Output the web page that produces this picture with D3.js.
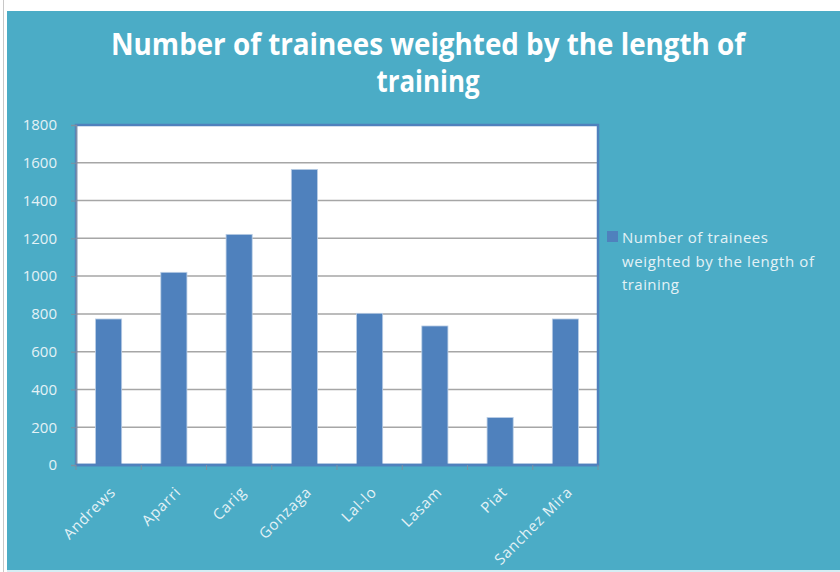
<!DOCTYPE html>
<html><head><meta charset="utf-8">
<script src="https://cdn.jsdelivr.net/npm/d3@7"></script>
<style>body{margin:0;background:#fff}svg{display:block}</style>
</head><body>
<script>
const categories = ["Andrews","Aparri","Carig","Gonzaga","Lal-lo","Lasam","Piat","Sanchez Mira"];
const values = [773, 1020, 1221, 1565, 803, 736, 251, 773];
const yTicks = [0,200,400,600,800,1000,1200,1400,1600,1800];
const titleLines = ["Number of trainees weighted by the length of","training"];
const legendLines = ["Number of trainees","weighted by the length of","training"];

const W=840,H=572;
const svg=d3.select("body").append("svg").attr("width",W).attr("height",H);
svg.append("rect").attr("x",0).attr("y",0).attr("width",W).attr("height",H).attr("fill","#fff");
svg.append("line").attr("x1",3.5).attr("x2",3.5).attr("y1",0).attr("y2",H).attr("stroke","#c8c8c8");
svg.append("rect").attr("x",7).attr("y",11).attr("width",W-7).attr("height",559).attr("fill","#4bacc6");
svg.append("rect").attr("x",7).attr("y",570).attr("width",W-7).attr("height",2).attr("fill","#d6eef4");

const font="'Open Sans', sans-serif";
const txt="#e4f2f6";

// title
const t=svg.append("text").attr("fill","#fff").attr("font-family",font).attr("font-weight","bold").attr("font-size",31).attr("text-anchor","middle");
titleLines.forEach((l,i)=>{
  const ts=t.append("tspan").attr("x",428).attr("y",i===0?55:92).text(l);
  ts.attr("textLength",i===0?634:103).attr("lengthAdjust","spacingAndGlyphs");
});

const m={l:76,r:598,t:125,b:465};
const x=d3.scaleBand().domain(categories).range([m.l,m.r]).paddingInner(0.6).paddingOuter(0.3);
const y=d3.scaleLinear().domain([0,1800]).range([m.b,m.t]);

svg.append("rect").attr("x",m.l).attr("y",m.t).attr("width",m.r-m.l).attr("height",m.b-m.t).attr("fill","#fff");

// grid
svg.append("g").selectAll("line").data(yTicks.filter(d=>d>0&&d<1800)).join("line")
  .attr("x1",m.l).attr("x2",m.r).attr("y1",d=>y(d)).attr("y2",d=>y(d))
  .attr("stroke","#a6a6a6").attr("stroke-width",1.5);

// bars
svg.append("g").selectAll("rect").data(values).join("rect")
  .attr("x",(d,i)=>x(categories[i])).attr("y",d=>y(d))
  .attr("width",x.bandwidth()).attr("height",d=>y(0)-y(d))
  .attr("fill","#4f81bd").attr("stroke","#b9cde5").attr("stroke-width",0.8);

// frame
svg.append("rect").attr("x",m.l).attr("y",m.t).attr("width",m.r-m.l).attr("height",m.b-m.t)
  .attr("fill","none").attr("stroke","#4f81bd").attr("stroke-width",2.5);

// y axis
const ya=svg.append("g").attr("transform",`translate(${m.l},0)`)
  .call(d3.axisLeft(y).tickValues(yTicks).tickSize(5).tickPadding(14).tickFormat(d3.format("d")));
ya.select(".domain").attr("stroke","#7f8fa6").attr("stroke-width",1.5);
ya.selectAll(".tick line").attr("stroke","#7f8f9f");
ya.selectAll("text").attr("fill",txt).attr("font-family",font).attr("font-size",15);

// x axis
const xa=svg.append("g").attr("transform",`translate(0,${m.b})`);
xa.append("line").attr("x1",m.l).attr("x2",m.r).attr("stroke","#4f81bd").attr("stroke-width",2.5);
xa.selectAll("line.tk").data(d3.range(categories.length+1)).join("line").attr("class","tk")
  .attr("x1",i=>m.l+i*(m.r-m.l)/categories.length).attr("x2",i=>m.l+i*(m.r-m.l)/categories.length)
  .attr("y1",0).attr("y2",5).attr("stroke","#7f8f9f");
xa.selectAll("text").data(categories).join("text")
  .attr("transform",d=>`translate(${x(d)+x.bandwidth()/2+8},28) rotate(-45)`)
  .attr("text-anchor","end").attr("letter-spacing",0.8)
  .attr("fill",txt).attr("font-family",font).attr("font-size",15).text(d=>d);

// legend
svg.append("rect").attr("x",607).attr("y",231).attr("width",11).attr("height",11).attr("fill","#4f81bd");
const lg=svg.append("text").attr("fill",txt).attr("font-family",font).attr("font-size",15);
const lw=[146,192,57];
legendLines.forEach((l,i)=>lg.append("tspan").attr("x",622).attr("y",243+i*23.5)
  .attr("textLength",lw[i]).attr("lengthAdjust","spacing").text(l));
</script>
</body></html>
